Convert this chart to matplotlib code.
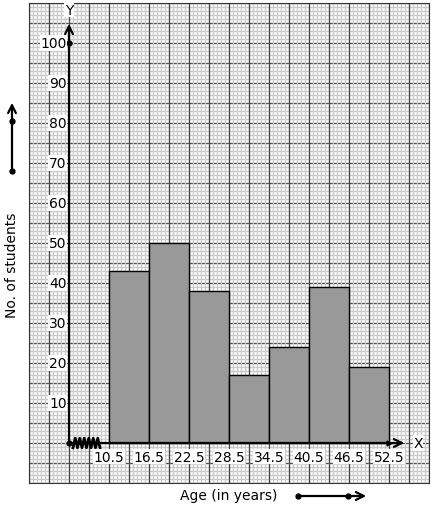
import matplotlib
matplotlib.use("Agg")
import matplotlib.pyplot as plt
import numpy as np

# class boundaries (age in years) and number of students per class
edges = [10.5, 16.5, 22.5, 28.5, 34.5, 40.5, 46.5, 52.5]
students = [43, 50, 38, 17, 24, 39, 19]
y_ticks = [10, 20, 30, 40, 50, 60, 70, 80, 90, 100]

# x position on the graph paper (1 unit = 1 big square), broken axis after origin
def xpos(age):
    return 2 + (np.asarray(age) - edges[0]) / 6.0 * 2

fig = plt.figure(figsize=(4.34, 5.10), dpi=100)
ax = fig.add_axes([29 / 434, 26 / 510, 400 / 434, 480 / 510])
ax.set_xlim(-2, 18)
ax.set_ylim(-10, 110)
ax.set_xticks([])
ax.set_yticks([])
for s in ax.spines.values():
    s.set_color("#333333")
    s.set_linewidth(0.8)

# graph paper
xmin, xmax = -2, 18
ymin, ymax = -10, 110
ax.hlines(np.arange(ymin, ymax + 1, 1), xmin, xmax, color="#cbcbcb", lw=1.0, zorder=1)
ax.hlines(np.arange(ymin, ymax + 1, 5), xmin, xmax, color="#4a4a4a", lw=0.9, zorder=1.2)
ax.vlines(np.arange(xmin, xmax + 0.01, 0.2), ymin, ymax, color="#cbcbcb", lw=1.0, zorder=1.4)
ax.vlines(np.arange(xmin, xmax + 0.01, 1), ymin, ymax, color="#444444", lw=0.9, zorder=1.6)

# histogram bars
left = xpos(edges[:-1])
width = xpos(edges[1:]) - left
ax.bar(left, students, width=width, align="edge", color="#999999",
       edgecolor="black", linewidth=1, zorder=3)

# axes with arrows
ax.annotate("", xy=(0, 105.5), xytext=(0, 0),
            arrowprops=dict(arrowstyle="->", lw=1.6, color="black", mutation_scale=14),
            zorder=4)
ax.annotate("", xy=(16.9, 0), xytext=(0, 0),
            arrowprops=dict(arrowstyle="->", lw=1.6, color="black", mutation_scale=14),
            zorder=4)
ax.plot([0, 0], [0, 100], "o", color="black", ms=3.5, zorder=5)
ax.plot([xpos(edges[-1])], [0], ">", color="black", ms=3.5, zorder=5)

# kink (zigzag) on x-axis
zx = np.linspace(0.2, 1.55, 13)
zy = np.where(np.arange(13) % 2 == 0, -1.2, 1.2)
ax.plot(zx, zy, color="black", lw=2.0, zorder=5)

ax.text(0, 108.3, "Y", ha="center", va="center", fontsize=10, zorder=6,
        bbox=dict(facecolor="white", edgecolor="none", pad=0.5))
ax.text(17.45, 0, "X", ha="center", va="center", fontsize=10, zorder=6,
        bbox=dict(facecolor="white", edgecolor="none", pad=0.5))

for e in edges:
    ax.text(xpos(e), -3.4, str(e), ha="center", va="center", fontsize=10, zorder=6,
            bbox=dict(facecolor="white", edgecolor="none", pad=0.5))
for v in y_ticks:
    ax.text(-0.12, v, str(v), ha="right", va="center", fontsize=10, zorder=6,
            bbox=dict(facecolor="white", edgecolor="none", pad=0.5))

# axis titles and direction arrows outside the paper
fig.text(12 / 434, 1 - 265 / 510, "No. of students", rotation=90,
         ha="center", va="center", fontsize=10)
fig.text(229 / 434, 1 - 496 / 510, "Age (in years)", ha="center", va="center", fontsize=10)

fig.add_artist(matplotlib.patches.FancyArrowPatch(
    (12 / 434, 1 - 172 / 510), (12 / 434, 1 - 101 / 510), transform=fig.transFigure,
    arrowstyle="->", lw=1.6, color="black", mutation_scale=14))
fig.add_artist(matplotlib.patches.FancyArrowPatch(
    (298 / 434, 1 - 497 / 510), (369 / 434, 1 - 497 / 510), transform=fig.transFigure,
    arrowstyle="->", lw=1.6, color="black", mutation_scale=14))
fig.add_artist(plt.Line2D([12 / 434, 12 / 434], [1 - 172 / 510, 1 - 122 / 510],
                          transform=fig.transFigure, marker="o", ms=3.5, ls="none", color="black"))
fig.add_artist(plt.Line2D([298 / 434, 348 / 434], [1 - 497 / 510, 1 - 497 / 510],
                          transform=fig.transFigure, marker="o", ms=3.5, ls="none", color="black"))

fig.savefig("out.png", dpi=100, facecolor="white")
